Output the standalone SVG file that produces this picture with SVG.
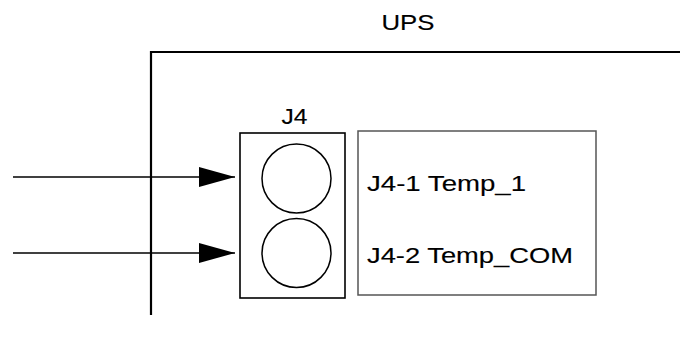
<svg xmlns="http://www.w3.org/2000/svg" width="680" height="343" viewBox="0 0 680 343">
<style>
text{font-family:"Liberation Sans",Arial,sans-serif;font-size:21.5px;fill:#000;stroke:#000;stroke-width:0.15}
.conn{stroke:#000;stroke-width:1.3;fill:none}
.pin{fill:#fff;stroke:#000;stroke-width:1.5}
</style>
<defs>
<marker id="ah" viewBox="0 0 36 20" refX="36" refY="10" markerWidth="36" markerHeight="20" markerUnits="userSpaceOnUse" orient="auto">
<path d="M0,0 L36,10 L0,20 Z" fill="#000"/>
</marker>
</defs>
<rect width="680" height="343" fill="#fff"/>
<g id="ups">
<path d="M151,315 L151,52 L680,52" fill="none" stroke="#000" stroke-width="2.2"/>
<text x="381.5" y="30" textLength="53" lengthAdjust="spacingAndGlyphs">UPS</text>
</g>
<g id="j4">
<rect x="240" y="133" width="105" height="165" fill="#fff" stroke="#000" stroke-width="1.6"/>
<text x="281.5" y="123.5" textLength="26" lengthAdjust="spacingAndGlyphs">J4</text>
<circle class="pin" cx="296.5" cy="178.5" r="34.5"/>
<circle class="pin" cx="296.5" cy="253" r="34.5"/>
</g>
<g id="labels">
<rect x="358" y="131" width="238" height="164" fill="#fff" stroke="#555" stroke-width="1.5"/>
<text x="367" y="190.5" textLength="159" lengthAdjust="spacingAndGlyphs">J4-1 Temp_1</text>
<text x="367" y="263" textLength="206" lengthAdjust="spacingAndGlyphs">J4-2 Temp_COM</text>
</g>
<g id="connectors">
<line class="conn" x1="13" y1="177" x2="235" y2="177" marker-end="url(#ah)"/>
<line class="conn" x1="13" y1="253" x2="235" y2="253" marker-end="url(#ah)"/>
</g>
</svg>
